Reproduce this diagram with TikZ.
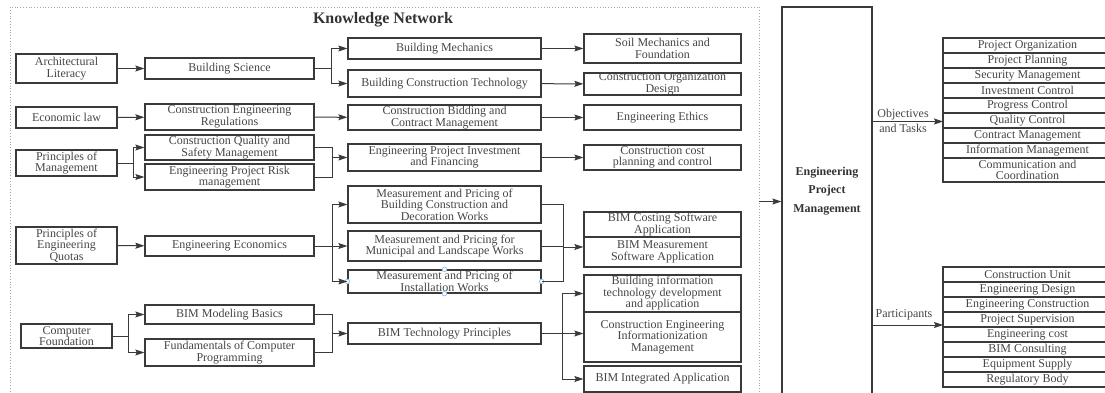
\documentclass[tikz,border=0pt]{standalone}
\usepackage{fontspec}
\setmainfont{Liberation Serif}
\usetikzlibrary{arrows.meta}
\definecolor{linec}{HTML}{3A3A3A}
\definecolor{txtc}{HTML}{454545}
\definecolor{handlec}{HTML}{9CC3E6}
% box given by name, left, top, right, bottom (px) and its text
\newcommand\kbox[6]{\node[box, minimum width={(#4)-(#2)}, minimum height={(#5)-(#3)}] (#1) at ({((#2)+(#4))/2},{((#3)+(#5))/2}) {#6};}
\begin{document}
\begin{tikzpicture}[x=1pt,y=-1pt,
  box/.style={draw=linec, line width=1.3pt, inner sep=0pt, align=center, text=txtc,
    font=\fontsize{12}{11.5}\selectfont},
  conn/.style={draw=linec, line width=1pt},
  arr/.style={conn, -{Stealth[length=9pt,width=6pt,inset=1.5pt]}},
  lbl/.style={text=txtc, align=center, inner sep=0pt, font=\fontsize{12}{15}\selectfont},
  handle/.style={draw=handlec, fill=white, line width=0.8pt, circle, inner sep=0pt, minimum size=4.5pt}]
\useasboundingbox (0,0) rectangle (1105,393);
\clip (0,0) rectangle (1105,393);

% knowledge network frame
\node[draw=gray!70, dotted, line width=0.8pt, minimum width=749, minimum height=389, inner sep=0pt] (kn) at (384.5,201.5) {};
\node[text=black!80, font=\fontsize{16}{18}\selectfont\bfseries] (title) at (383,19.5) {Knowledge Network};

% column 1
\kbox{al}{16}{54}{117}{83}{Architectural\\Literacy}
\kbox{el}{16}{107}{117}{128}{Economic law}
\kbox{pm}{16}{150}{117}{176}{Principles of\\Management}
\kbox{pq}{16}{227}{117}{264}{Principles of\\Engineering\\Quotas}
\kbox{cf}{21}{324}{112}{348}{Computer\\Foundation}

% column 2
\kbox{bs}{145}{58}{314}{79}{Building Science}
\kbox{cer}{145}{104}{314}{130}{Construction Engineering\\Regulations}
\kbox{cqs}{145}{135}{314}{160}{Construction Quality and\\Safety Management}
\kbox{epr}{145}{164}{314}{190}{Engineering Project Risk\\management}
\kbox{ee}{145}{236}{314}{256}{Engineering Economics}
\kbox{bmb}{145}{305}{314}{324}{BIM Modeling Basics}
\kbox{fcp}{145}{339}{314}{366}{Fundamentals of Computer\\Programming}

% column 3
\kbox{bm}{348}{38}{541}{59}{Building Mechanics}
\kbox{bct}{348}{70}{541}{97}{Building Construction Technology}
\kbox{cbc}{348}{105}{541}{130}{Construction Bidding and\\Contract Management}
\kbox{epi}{348}{144}{541}{171}{Engineering Project Investment\\and Financing}
\kbox{mpa}{348}{186}{541}{223}{Measurement and Pricing of\\Building Construction and\\Decoration Works}
\kbox{mpb}{348}{231}{541}{261}{Measurement and Pricing for\\Municipal and Landscape Works}
\kbox{mpc}{348}{270}{541}{293}{Measurement and Pricing of\\Installation Works}
\kbox{btp}{348}{323}{541}{344}{BIM Technology Principles}

% column 4
\kbox{smf}{584}{34}{741}{63}{Soil Mechanics and\\Foundation}
\kbox{cod}{584}{73}{741}{95}{Construction Organization\\Design}
\kbox{eth}{584}{105}{741}{130}{Engineering Ethics}
\kbox{ccp}{584}{145}{741}{170}{Construction cost\\planning and control}
\kbox{bcs}{584}{212}{741}{237}{BIM Costing Software\\Application}
\kbox{bms}{584}{237}{741}{267}{BIM Measurement\\Software Application}
\kbox{bit}{584}{275}{741}{312}{Building information\\technology development\\and application}
\kbox{cei}{584}{312}{741}{362}{Construction Engineering\\Informationization\\Management}
\kbox{bia}{584}{366}{741}{392}{BIM Integrated Application}

% selection handles on the installation works box
\foreach \a in {west,east,north,south} \node[handle] (h\a) at (mpc.\a) {};

% engineering project management
\kbox{epm}{782}{7}{872}{400}{}
\node[text=black!80, align=center, font=\fontsize{12}{18.5}\selectfont\bfseries] (epmt) at (827,191) {Engineering\\Project\\Management};

% objectives and tasks list
\kbox{qa}{943}{38}{1112}{53}{Project Organization}
\kbox{qb}{943}{53}{1112}{68}{Project Planning}
\kbox{qc}{943}{68}{1112}{83}{Security Management}
\kbox{qd}{943}{83}{1112}{98}{Investment Control}
\kbox{qe}{943}{98}{1112}{113}{Progress Control}
\kbox{qf}{943}{113}{1112}{128}{Quality Control}
\kbox{qg}{943}{128}{1112}{143}{Contract Management}
\kbox{qh}{943}{143}{1112}{158}{Information Management}
\kbox{qi}{943}{158}{1112}{182}{Communication and\\Coordination}

% participants list
\kbox{pa}{943}{267}{1112}{282}{Construction Unit}
\kbox{pb}{943}{282}{1112}{297}{Engineering Design}
\kbox{pc}{943}{297}{1112}{312}{Engineering Construction}
\kbox{pd}{943}{312}{1112}{327}{Project Supervision}
\kbox{pe}{943}{327}{1112}{342}{Engineering cost}
\kbox{pf}{943}{342}{1112}{357}{BIM Consulting}
\kbox{pg}{943}{357}{1112}{372}{Equipment Supply}
\kbox{ph}{943}{372}{1112}{387}{Regulatory Body}

% connectors: architectural literacy chain
\draw[arr] (al) -- (bs);
\draw[conn] (bs.east) -- ++(17,0) coordinate (fa);
\draw[arr] (fa) |- (bm.west);
\draw[arr] (fa) |- (bct.west);
\draw[arr] (bm) -- (smf);
\draw[arr] (bct) -- (cod);

% economic law chain
\draw[arr] (el) -- (cer);
\draw[arr] (cer) -- (cbc);
\draw[arr] (cbc) -- (eth);

% management chain
\draw[conn] (pm.east) -- ++(16,0) coordinate (fb);
\draw[arr] (fb) |- (cqs.west);
\draw[arr] (fb) |- (epr.west);
\coordinate (mb) at (332,157.5);
\draw[conn] (cqs.east) -- (cqs.east -| mb) -- (epr.east -| mb) -- (epr.east);
\draw[arr] (mb) -- (epi.west);
\draw[arr] (epi) -- (ccp);

% engineering quotas chain
\draw[arr] (pq) -- (ee);
\draw[conn] (ee.east) -- ++(18,0) coordinate (fc);
\draw[arr] (fc) |- (mpa.west);
\draw[arr] (fc) -- (fc -| mpb.west);
\draw[arr] (fc) |- (mpc.west);
\coordinate (mc) at (563,247);
\draw[conn] (mpa.east) -- (mpa.east -| mc) -- (mpc.east -| mc) -- (mpc.east);
\draw[conn] (mpb.east) -- (mpb.east -| mc);
\draw[arr] (mc) -- (mc -| bms.west);

% computer foundation chain
\draw[conn] (cf.east) -- ++(16,0) coordinate (fd);
\draw[arr] (fd) |- (bmb.west);
\draw[arr] (fd) |- (fcp.west);
\coordinate (md) at (332,333.5);
\draw[conn] (bmb.east) -- (bmb.east -| md) -- (fcp.east -| md) -- (fcp.east);
\draw[arr] (md) -- (btp.west);
\draw[conn] (btp.east) -- ++(21,0) coordinate (fe);
\draw[arr] (fe) |- (bit.west);
\draw[arr] (fe) -- (fe -| cei.west);
\draw[arr] (fe) |- (bia.west);

% into and out of project management
\draw[arr] (kn.east) -- (kn.east -| epm.west);
\coordinate (oin) at (943,121.5);
\draw[arr] (oin -| epm.east) -- (oin);
\node[lbl] (olbl) at (903,120.5) {Objectives\\and Tasks};
\coordinate (pin) at (943,325);
\draw[arr] (pin -| epm.east) -- (pin);
\node[lbl] (plbl) at (904,315) {Participants};
\end{tikzpicture}
\end{document}
